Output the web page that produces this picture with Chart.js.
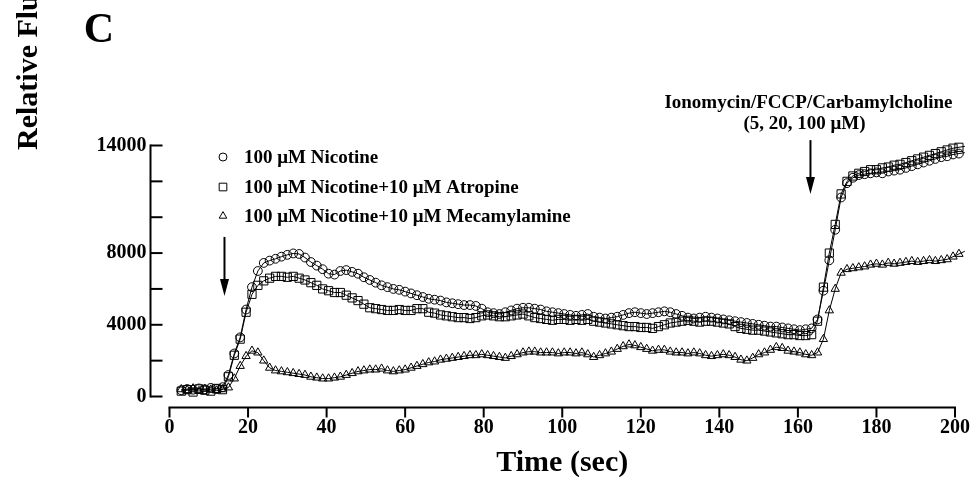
<!DOCTYPE html>
<html>
<head>
<meta charset="utf-8">
<script src="https://cdn.jsdelivr.net/npm/chart.js@4.4.0/dist/chart.umd.min.js"></script>
<style>
  html, body { margin: 0; padding: 0; background: #fff; overflow: hidden; }
  canvas { display: block; }
</style>
</head>
<body>
<canvas id="chart" width="972" height="491"></canvas>
<script>
const SERIF = "'Liberation Serif', 'Times New Roman', serif";

// sampling times (sec)
const timeSec = [
  3, 4.5, 6, 7.5, 9, 10.5, 12, 13.5, 15, 16.5,
  18, 19.5, 21, 22.5, 24, 25.5, 27, 28.5, 30, 31.5,
  33, 34.5, 36, 37.5, 39, 40.5, 42, 43.5, 45, 46.5,
  48, 49.5, 51, 52.5, 54, 55.5, 57, 58.5, 60, 61.5,
  63, 64.5, 66, 67.5, 69, 70.5, 72, 73.5, 75, 76.5,
  78, 79.5, 81, 82.5, 84, 85.5, 87, 88.5, 90, 91.5,
  93, 94.5, 96, 97.5, 99, 100.5, 102, 103.5, 105, 106.5,
  108, 109.5, 111, 112.5, 114, 115.5, 117, 118.5, 120, 121.5,
  123, 124.5, 126, 127.5, 129, 130.5, 132, 133.5, 135, 136.5,
  138, 139.5, 141, 142.5, 144, 145.5, 147, 148.5, 150, 151.5,
  153, 154.5, 156, 157.5, 159, 160.5, 162, 163.5, 165, 166.5,
  168, 169.5, 171, 172.5, 174, 175.5, 177, 178.5, 180, 181.5,
  183, 184.5, 186, 187.5, 189, 190.5, 192, 193.5, 195, 196.5,
  198, 199.5, 201, 202.5
];

const nicotine = [
  350, 420, 380, 450, 400, 480, 420, 520, 1200, 2400,
  3300, 4850, 6100, 7000, 7450, 7580, 7680, 7800, 7900, 7980,
  7950, 7750, 7500, 7300, 7100, 6850, 6800, 7000, 7050, 6950,
  6850, 6650, 6500, 6350, 6200, 6100, 6000, 5950, 5850, 5750,
  5650, 5550, 5450, 5400, 5350, 5250, 5200, 5150, 5100, 5100,
  5050, 4900, 4700, 4650, 4600, 4700, 4800, 4900, 4950, 4950,
  4900, 4850, 4750, 4700, 4650, 4600, 4550, 4500, 4550, 4600,
  4450, 4400, 4350, 4400, 4450, 4550, 4650, 4700, 4650, 4600,
  4650, 4700, 4750, 4700, 4600, 4500, 4400, 4350, 4400, 4450,
  4400, 4350, 4300, 4250, 4200, 4150, 4100, 4050, 4000, 3950,
  3900, 3900, 3850, 3800, 3750, 3700, 3750, 3800, 4300, 5900,
  7600, 9300, 11100, 11900, 12200, 12350, 12400, 12450, 12500, 12450,
  12550, 12600, 12650, 12750, 12850, 12950, 13050, 13150, 13250, 13350,
  13400, 13500, 13550, 13600
];

const atropine = [
  300, 380, 250, 420, 350, 300, 450, 380, 1100, 2300,
  3200, 4700, 5700, 6200, 6450, 6600, 6700, 6700, 6650, 6700,
  6600, 6500, 6350, 6200, 6000, 5900, 5800, 5800, 5650, 5500,
  5350, 5150, 4950, 4900, 4850, 4800, 4800, 4850, 4800, 4800,
  4900, 4900, 4700, 4650, 4550, 4500, 4450, 4400, 4400, 4350,
  4400, 4500, 4550, 4500, 4450, 4450, 4500, 4550, 4600, 4500,
  4400, 4350, 4300, 4250, 4300, 4300, 4250, 4300, 4250, 4300,
  4200, 4150, 4100, 4050, 4000, 3950, 3900, 3900, 3850, 3850,
  3800, 3900, 4000, 4100, 4150, 4200, 4250, 4200, 4150, 4200,
  4200, 4150, 4100, 4050, 3900, 3800, 3750, 3700, 3700, 3650,
  3600, 3550, 3500, 3450, 3450, 3400, 3400, 3450, 4200, 6100,
  8000, 9600, 11300, 12000, 12300, 12450, 12550, 12650, 12650, 12750,
  12800, 12900, 12950, 13050, 13150, 13250, 13350, 13450, 13550, 13650,
  13750, 13850, 13900, 13950
];

const mecamylamine = [
  400, 350, 450, 300, 420, 380, 330, 400, 500, 1000,
  1700, 2250, 2550, 2450, 2000, 1600, 1450, 1400, 1350, 1300,
  1250, 1200, 1100, 1050, 1000, 1000, 1050, 1100, 1200, 1300,
  1400, 1450, 1500, 1500, 1550, 1450, 1400, 1450, 1500, 1600,
  1700, 1800, 1900, 1950, 2050, 2100, 2150, 2200, 2250, 2300,
  2300, 2350, 2300, 2250, 2200, 2150, 2250, 2350, 2450, 2500,
  2500, 2450, 2450, 2450, 2400, 2450, 2450, 2400, 2450, 2350,
  2200, 2300, 2400, 2500, 2650, 2800, 2900, 2850, 2750, 2650,
  2550, 2600, 2600, 2500, 2450, 2450, 2400, 2450, 2400, 2300,
  2250, 2300, 2350, 2300, 2200, 2050, 2000, 2150, 2350, 2450,
  2600, 2750, 2700, 2550, 2500, 2450, 2350, 2300, 2450, 3200,
  4800, 6000, 6900, 7100, 7150, 7200, 7250, 7350, 7400, 7350,
  7450, 7400, 7450, 7500, 7550, 7500, 7550, 7600, 7550, 7600,
  7650, 7800, 7950, 8100
];

const seriesLabels = [
  '100 μM Nicotine',
  '100 μM Nicotine+10 μM Atropine',
  '100 μM Nicotine+10 μM Mecamylamine'
];
const seriesMarkers = ['circle', 'rect', 'triangle'];
const markerRadius = [4.4, 5.8, 4.8];

const yLabelledTicks = [0, 4000, 8000, 14000];

// stimulus arrows, in data units (time, fluorescence from -> to)
const arrowTimes = [14, 163.2];
const arrowFrom = [8900, 14300];
const arrowTo = [5600, 11300];
const stimulusText = ['Ionomycin/FCCP/Carbamylcholine', '(5, 20, 100 μM)'];

const seriesValues = [nicotine, atropine, mecamylamine];

const datasets = seriesValues.map((vals, k) => ({
  label: seriesLabels[k],
  data: timeSec.map((t, i) => ({ x: t, y: vals[i] })),
  borderColor: '#000',
  borderWidth: 1,
  pointStyle: seriesMarkers[k],
  pointRadius: markerRadius[k],
  pointBorderWidth: 1,
  pointBorderColor: '#000',
  pointBackgroundColor: 'rgba(0,0,0,0)',
  tension: 0,
  clip: false
}));

function drawArrow(ctx, x, y1, y2) {
  ctx.lineWidth = 2;
  ctx.beginPath();
  ctx.moveTo(x, y1);
  ctx.lineTo(x, y2 - 12);
  ctx.stroke();
  ctx.beginPath();
  ctx.moveTo(x - 4.5, y2 - 17);
  ctx.lineTo(x + 4.5, y2 - 17);
  ctx.lineTo(x, y2);
  ctx.closePath();
  ctx.fill();
}

const decor = {
  id: 'decor',
  afterDraw(chart) {
    const { ctx, chartArea, scales } = chart;
    const xs = scales.x, ys = scales.y;
    ctx.save();
    ctx.strokeStyle = '#000';
    ctx.fillStyle = '#000';

    // detached y axis with inward ticks
    const ax = chartArea.left - 19;
    ctx.lineWidth = 2;
    ctx.beginPath();
    ctx.moveTo(ax, ys.getPixelForValue(0) + 1);
    ctx.lineTo(ax, ys.getPixelForValue(14000) - 1);
    ctx.stroke();
    ys.ticks.forEach(tk => {
      const py = ys.getPixelForValue(tk.value);
      ctx.beginPath();
      ctx.moveTo(ax, py);
      ctx.lineTo(ax + 12, py);
      ctx.stroke();
    });

    // detached x axis with outward ticks
    const ay = chartArea.bottom + 11;
    ctx.beginPath();
    ctx.moveTo(xs.getPixelForValue(0) - 1, ay);
    ctx.lineTo(xs.getPixelForValue(200) + 1, ay);
    ctx.stroke();
    xs.ticks.forEach(tk => {
      const px = xs.getPixelForValue(tk.value);
      ctx.beginPath();
      ctx.moveTo(px, ay);
      ctx.lineTo(px, ay + 10);
      ctx.stroke();
    });

    // panel letter
    ctx.font = 'bold 42px ' + SERIF;
    ctx.textAlign = 'center';
    ctx.textBaseline = 'middle';
    ctx.fillText('C', 99, 31);

    // y title, runs off the top of the figure
    ctx.save();
    ctx.translate(37, 150);
    ctx.rotate(-Math.PI / 2);
    ctx.font = 'bold 30px ' + SERIF;
    ctx.textAlign = 'left';
    ctx.textBaseline = 'alphabetic';
    ctx.fillText('Relative Fluorescence', 0, 0);
    ctx.restore();

    // legend (open markers)
    ctx.font = 'bold 19px ' + SERIF;
    ctx.textAlign = 'left';
    ctx.textBaseline = 'middle';
    const legY = [157, 187, 216];
    seriesLabels.forEach((lab, k) => {
      ctx.lineWidth = 1;
      ctx.fillStyle = 'rgba(0,0,0,0)';
      Chart.helpers.drawPoint(ctx, {
        pointStyle: seriesMarkers[k], radius: markerRadius[k] - 0.4, rotation: 0, borderWidth: 1
      }, 223, legY[k]);
      ctx.fillStyle = '#000';
      ctx.fillText(lab, 244, legY[k] + 1);
    });

    // stimulus arrows
    arrowTimes.forEach((t, i) => {
      drawArrow(ctx, xs.getPixelForValue(t), ys.getPixelForValue(arrowFrom[i]), ys.getPixelForValue(arrowTo[i]));
    });
    const tx = xs.getPixelForValue(arrowTimes[1]);
    ctx.font = 'bold 19px ' + SERIF;
    ctx.textAlign = 'center';
    ctx.fillText(stimulusText[0], tx - 2, 103);
    ctx.fillText(stimulusText[1], tx - 6, 124);

    ctx.restore();
  }
};

new Chart(document.getElementById('chart').getContext('2d'), {
  type: 'line',
  data: { datasets },
  options: {
    responsive: false,
    animation: false,
    layout: { padding: { left: 0, right: 17, top: 145.5, bottom: 0 } },
    plugins: { legend: { display: false }, tooltip: { enabled: false } },
    scales: {
      x: {
        type: 'linear',
        afterDataLimits(s) { s.min = 0; s.max = 200; },
        afterFit(s) { s.height = 94.5; s.paddingLeft = 0; s.paddingRight = 0; },
        ticks: {
          stepSize: 20,
          padding: 19,
          color: '#000',
          font: { family: SERIF, size: 20, weight: 'bold' },
          maxRotation: 0
        },
        grid: { display: false, drawTicks: false },
        border: { display: false },
        title: {
          display: true,
          text: 'Time (sec)',
          color: '#000',
          font: { family: SERIF, size: 30, weight: 'bold' },
          padding: { top: 0, bottom: 10 }
        }
      },
      y: {
        type: 'linear',
        min: 0,
        max: 14000,
        afterFit(s) { s.width = 169.5; s.paddingTop = 0; s.paddingBottom = 0; },
        ticks: {
          stepSize: 2000,
          padding: 23,
          color: '#000',
          font: { family: SERIF, size: 20, weight: 'bold' },
          callback: v => yLabelledTicks.includes(v) ? String(v) : ''
        },
        grid: { display: false, drawTicks: false },
        border: { display: false }
      }
    }
  },
  plugins: [decor]
});
</script>
</body>
</html>
